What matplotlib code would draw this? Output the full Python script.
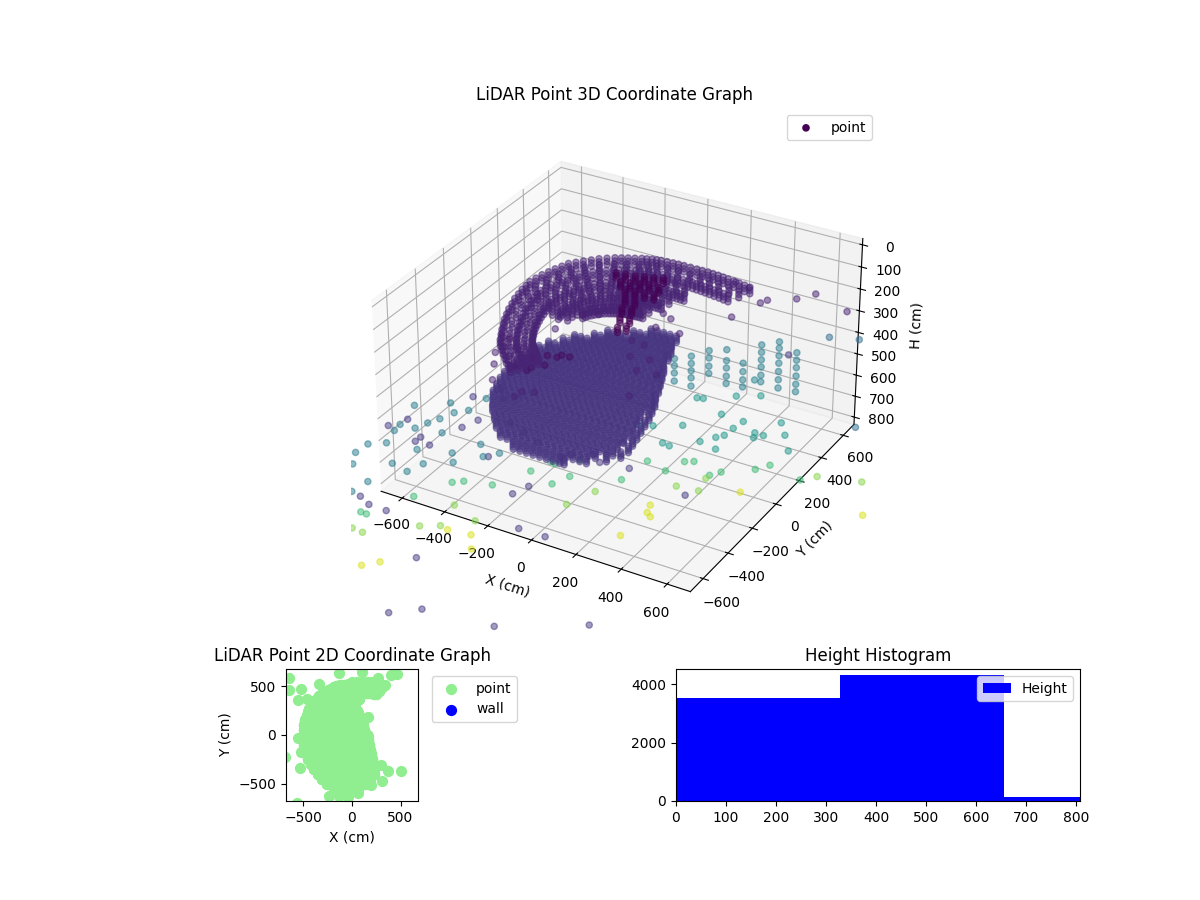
import numpy as np
import matplotlib
matplotlib.use("Agg")
import matplotlib.pyplot as plt

# upper wall rows: (x list, y list) for each scan height
ring_a_x = [-191,-240,-290,-332,-370,-405,-435,-460,-475,-482,-470,-450,-427,-385,-340,-288,-240,-190,-150,-112,-60,-10,50,101,150,200,255,309,
            -215,-265,-311,-351,-387,-420,-447,-467,-478,-476,-460,-438,-406,-362,-314,-264,-215,-170,-131,-86,-35,20,75,125,175,227,282]
ring_a_y = [-524,-475,-420,-373,-300,-225,-145,-60,20,91,165,235,302,350,400,440,465,490,505,514,520,522,522,522,518,510,502,492,
            -500,-447,-396,-336,-262,-185,-102,-20,55,128,200,268,326,375,420,452,477,497,509,517,521,522,522,520,514,506,497]
ring_ab_x = [-184,-229,-276,-314,-350,-382,-410,-433,-447,-453,-442,-424,-402,-363,-322,-274,-229,-183,-146,-111,-63,-17,38,86,131,177,228,278]
ring_ab_y = [-483,-438,-387,-343,-276,-206,-132,-54,20,85,154,219,281,325,371,408,431,455,468,477,482,484,484,484,480,473,466,456]
ring_b_x = [-177,-219,-262,-297,-330,-359,-385,-406,-419,-425,-415,-398,-378,-342,-304,-260,-219,-177,-143,-110,-66,-24,27,71,112,155,202,248,
            -198,-240,-279,-313,-344,-372,-395,-412,-422,-420,-406,-388,-360,-323,-282,-239,-198,-160,-126,-88,-45,1,49,91,133,178,225]
ring_b_y = [-442,-401,-354,-314,-252,-188,-120,-48,20,80,143,203,260,300,343,377,398,420,432,440,445,447,447,447,443,437,430,421,
            -421,-377,-334,-283,-220,-154,-84,-14,50,111,173,231,280,321,360,387,409,426,436,442,446,447,447,445,440,433,425]
ring_bc_x = [-170,-208,-247,-279,-309,-336,-359,-379,-390,-396,-387,-371,-353,-321,-286,-246,-208,-170,-139,-109,-69,-30,16,56]
ring_bc_y = [-401,-363,-321,-284,-228,-170,-108,-42,20,75,132,186,238,275,314,345,365,384,396,403,407,409,409,409]
ring_c_x = [-164,-198,-233,-262,-289,-314,-334,-352,-362,-367,-359,-345,-329,-300,-268,-232,-198,-163,-135,-108,-72,-37,5,41,75,
            -181,-215,-247,-275,-301,-324,-343,-357,-364,-363,-352,-337,-314,-284,-250,-215,-180,-149,-121,-90,-54,-16,23,58]
ring_c_y = [-361,-326,-288,-255,-204,-152,-96,-36,20,70,122,170,217,251,286,314,332,349,360,366,370,371,371,371,369,
            -343,-307,-271,-229,-178,-124,-66,-8,45,96,146,193,234,268,300,323,340,354,363,368,370,371,371,370]
ring_cd_x = [-334,-338,-331,-318,-304,-278,-250,-217,-187,-156,-131,-107,-75,-43,-6,26]
ring_cd_y = [20,65,111,154,196,226,257,282,298,314,323,329,332,333,333,333]
ring_d_x = [-306,-310,-304,-292,-280,-257,-232,-203,-177,-150,-127,-107,-78,-50,-17,11,
            -308,-307,-298,-286,-268,-244,-217,-190,-163,-138,-117,-92,-64,-33,-3]
ring_d_y = [20,59,100,138,175,202,229,251,265,279,287,292,295,296,296,296,
            40,80,119,156,188,215,240,258,272,283,289,293,295,296,296]
ring_de_x = [-278,-277,-270,-258,-242,-228,-205,-177,-152,-130,-113,-100,-75,-55,-27]
ring_de_y = [45,80,105,124,156,180,205,222,235,248,255,258,262,262,263]
ring_e_x = [-247,-237,-220,-201,-179,-159,-138,-121,-105,-83,-62,-37,
            -242,-228,-210,-190,-169,-148,-129,-113,-94,-72,-50]
ring_e_y = [110,138,159,180,196,207,217,224,227,230,231,231,
            124,148,170,188,201,212,220,225,228,230,231]
ring_heights = [200, 210, 220, 230, 240, 251, 262, 273, 285]
ring_layers = [0, 15, 30]

# dark T-shaped structure
tee_x = [-129,-90,-50,-15,21,57,-76,-37,-1,35,78,-27,13,52,91,10,50,37,73,68,104,98,123]
tee_y = [176,183,190,203,216,230,120,127,141,154,154,71,78,85,92,6,13,-66,-52,-135,-122,-205,-180]
tee_heights = [105, 117, 129]

# dark chunk below the left of the wall
chunk_x = [-408,-365,-309,-252,-378,-318,-262,-191,-268,-223,-189,-183,-152,-143,-135,-101]
chunk_y = [-231,-293,-346,-400,-230,-282,-335,-407,-233,-311,-379,-268,-338,-261,-238,-235]

# scattered points around the wall
stray_x = [-229,-14,196,267,365,379,320,70,118,100,-148,-203,-343,-299,-240,-238,206,476,524,698]
stray_y = [251,455,585,567,478,512,317,207,183,93,71,37,-393,-472,-577,-116,96,581,656,587]

# lower disc, row by row
disc_y = [500,450,400,350,300,250,200,150,100,50,0,-50,-100,-150,-200,-250,-300,-350,-400,-450,-500,-550]
disc_x = [
 [-150,-120,-90,-60,-30],
 [-205,-175,-145,-115,-85,-55,-25],
 [-300,-270,-240,-210,-180,-150,-120,-90,-60,-30,0],
 [-335,-305,-275,-245,-215,-185,-155,-125,-95,-65,-35,-5,15],
 [-400,-370,-340,-310,-280,-250,-220,-190,-160,-130,-100,-70,-40,-10,20],
 [-425,-395,-365,-335,-305,-275,-245,-215,-185,-155,-125,-95,-65,-35,-5,25,50],
 [-465,-435,-405,-375,-345,-315,-285,-255,-225,-195,-165,-135,-105,-75,-45,-15,15,45,70],
 [-480,-450,-420,-390,-360,-330,-300,-270,-240,-210,-180,-150,-120,-90,-60,-30,0,30,60,90],
 [-490,-460,-430,-400,-370,-340,-310,-280,-250,-220,-190,-160,-130,-100,-70,-40,-10,20,50,80,110],
 [-495,-465,-435,-405,-375,-345,-315,-285,-255,-225,-195,-165,-135,-105,-75,-45,-15,15,45,75,105,125],
 [-495,-465,-435,-405,-375,-345,-315,-285,-255,-225,-195,-165,-135,-105,-75,-45,-15,15,45,75,105,135,150],
 [-495,-465,-435,-405,-375,-345,-315,-285,-255,-225,-195,-165,-135,-105,-75,-45,-15,15,45,75,105,135,165],
 [-490,-460,-430,-400,-370,-340,-310,-280,-250,-220,-190,-160,-130,-100,-70,-40,-10,20,50,80,110,140,180],
 [-480,-450,-420,-390,-360,-330,-300,-270,-240,-210,-180,-150,-120,-90,-60,-30,0,30,60,90,120,150,190],
 [-465,-435,-405,-375,-345,-315,-285,-255,-225,-195,-165,-135,-105,-75,-45,-15,15,45,75,105,135,165,200],
 [-450,-420,-390,-360,-330,-300,-270,-240,-210,-180,-150,-120,-90,-60,-30,0,30,60,90,120,150,180,210],
 [-420,-390,-360,-330,-300,-270,-240,-210,-180,-150,-120,-90,-60,-30,0,30,60,90,120,150,180,220],
 [-390,-360,-330,-300,-270,-240,-210,-180,-150,-120,-90,-60,-30,0,30,60,90,120,150,180,230],
 [-350,-320,-290,-260,-230,-200,-170,-140,-110,-80,-50,-20,10,40,70,100,130,160,190,225],
 [-310,-280,-250,-220,-190,-160,-130,-100,-70,-40,-10,20,50,80,110,140,190],
 [-260,-230,-200,-170,-140,-110,-80,-50,-20,10,40,70,100,130],
 [-170,-140,-110,-80,-50,-20,10,40,60],
]
disc_heights = [525, 535, 545, 555]

rim_x = [-19,7,81,133,136,-154,-239,-325,-447,-497,110]
rim_y = [-444,-411,-366,-404,-234,-396,-360,-325,-179,-121,-56]
inner_x = [-236,-232,-186,148,160,78,-4,74,0,-61]
inner_y = [-429,-382,-362,-200,-7,84,68,-16,177,184]

# back wall columns
col_x = [-60,20,103,185,262,345,425,505]
col_z = [
 [661,695,730,769],
 [626,661,696,730,770],
 [576,611,650,685],
 [548,600,635,674,709],
 [590,630,669,703],
 [480,515,550,584,623,654],
 [443,473,508,543,582,621,660],
 [471,506,541,580,619,654],
]

# scattered floor points
teal_x = [-633,-520,-427,-467,-490,-514,-535,-601,-595,-570,-627,-633,-595,-425,-441,-310,-249,-193,-152,-270,-363,-386,-467,-474,-487,-416]
teal_y = [-541,-454,-467,-510,-577,-627,-684,-690,-739,-830,-873,-948,-1022,-661,-812,-766,-658,-729,-677,-821,-887,-963,-943,-1097,-1184,-355]
blue_hi_x = [-469,-597,-636,-380,-355,-480,-479,-417,-176]
blue_hi_y = [-369,-643,-720,-588,-511,-765,-729,-761,-719]
blue_lo_x = [135,-167,-141,-610,-672,-527,-16,101,-245,-40,-133,543,248,422]
blue_lo_y = [-177,-567,-489,-911,-879,-914,-765,-763,-1128,-1400,-1480,-1180,-1360,-239]
aqua_x = [104,129,238,325,254,358,348,497,554,480,440,453,320,342,280,362,159,56,1,155,189,621]
aqua_y = [439,447,532,585,373,367,299,435,356,310,312,276,202,233,142,122,217,154,129,57,51,255]
green_x = [-66,-162,-138,-193,-417,-382,-270,-71,-39,150,-491,-607,-580,300,332,268,170,463,435,571,607,760]
green_y = [-222,-290,-293,-389,-615,-585,-552,-428,-346,-265,-776,-971,-972,-23,-3,-121,-93,-19,-63,66,123,85]
lime_x = [104,-320,-190,-355,-287,-520,-571,55,433,360,452,807,977]
lime_y = [-391,-749,-803,-940,-898,-1086,-1081,-527,-90,-198,-185,141,193]
yellow_x = [-248,-151,-97,-395,-348,346,598,339,355,380,1085]
yellow_y = [-908,-893,-975,-1274,-1220,-612,-112,-369,-421,-441,-22]
far_x = [692,803,616]
far_y = [445,487,239]
far_z = [300,300,300]
far_c = [0.35,0.35,0.17]
side_x = [774,436]
side_y = [554,305]
side_z = [750,500]
side_c = [0.35,0.45]

# extra points in the 2D view
plan_x = [-138,100,-649,-649,-528,-345,-459,-555,266,404,466,335,248,162,-559,-528,-690,-531,300,369,504,307,197,-241,-131,-38,-562,59,0,50,100,150,200,250]
plan_y = [638,649,586,466,473,524,369,362,586,617,628,517,535,183,-35,-172,-231,-345,-304,-373,-373,-476,-518,-631,-624,-638,-697,-597,550,550,550,550,550,550]

# histogram
hist_edges = [0, 328, 656, 808]
hist_counts = [3520, 4308, 137]

xs, ys, zs, cs = [], [], [], []
def add(x, y, z, c):
    x = np.atleast_1d(x).astype(float)
    y = np.atleast_1d(y).astype(float)
    xs.append(x); ys.append(y)
    zs.append(np.broadcast_to(z, x.shape).astype(float))
    cs.append(np.broadcast_to(c, x.shape).astype(float))

for h in tee_heights:
    add(tee_x, tee_y, h, 0.0)
ring_rows = [(ring_a_x, ring_a_y), (ring_ab_x, ring_ab_y), (ring_b_x, ring_b_y), (ring_bc_x, ring_bc_y),
             (ring_c_x, ring_c_y), (ring_cd_x, ring_cd_y), (ring_d_x, ring_d_y), (ring_de_x, ring_de_y),
             (ring_e_x, ring_e_y)]
for (rx, ry), h in zip(ring_rows, ring_heights):
    for layer in ring_layers:
        add(rx, ry, h + layer, 0.1)
add(chunk_x, chunk_y, 280, 0.03)
for row_y, row_x in zip(disc_y, disc_x):
    for h in disc_heights:
        add(row_x, [row_y] * len(row_x), h, 0.15)
add(rim_x, rim_y, 600, 0.15)
add(inner_x, inner_y, 400, 0.1)
plan_core_x = np.concatenate(xs)
plan_core_y = np.concatenate(ys)
add(stray_x, stray_y, 250, 0.09)
for cx, cz in zip(col_x, col_z):
    add([cx] * len(cz), [540] * len(cz), cz, 0.42)
add(teal_x, teal_y, 500, 0.42)
add(blue_hi_x, blue_hi_y, 500, 0.17)
add(blue_lo_x, blue_lo_y, 750, 0.17)
add(aqua_x, aqua_y, 750, 0.53)
add(green_x, green_y, 750, 0.68)
add(lime_x, lime_y, 750, 0.82)
add(yellow_x, yellow_y, 750, 0.94)
add(far_x, far_y, far_z, far_c)
add(side_x, side_y, side_z, side_c)

fig = plt.figure(figsize=(12, 9), dpi=100)

ax3 = fig.add_axes([351 / 1200, 264 / 900, 528 / 1200, 528 / 900], projection="3d")
ax3.scatter(np.concatenate(xs), np.concatenate(ys), np.concatenate(zs), c=np.concatenate(cs),
            cmap="viridis", vmin=0, vmax=1, label="point", alpha=0.5, depthshade=False)
ax3.set_xlim(-700, 700)
ax3.set_ylim(-700, 700)
ax3.set_zlim(835, -28)
ax3.set_aspect("equal")
ax3.set_zticks(range(0, 801, 100))
ax3.set_xlabel("X (cm)")
ax3.set_ylabel("Y (cm)")
ax3.set_zlabel("H (cm)")
ax3.set_title("LiDAR Point 3D Coordinate Graph")
leg3 = ax3.legend(loc="upper right")
leg3.legend_handles[0].set_alpha(1)

ax2 = fig.add_axes([286 / 1200, 99 / 900, 132 / 1200, 132 / 900])
ax2.scatter(np.concatenate([plan_core_x, plan_x]), np.concatenate([plan_core_y, plan_y]),
            s=50, c="lightgreen", label="point")
ax2.scatter([], [], s=50, c="blue", label="wall")
ax2.set_xlim(-680, 680)
ax2.set_ylim(-680, 680)
ax2.set_xticks([-500, 0, 500])
ax2.set_yticks([-500, 0, 500])
ax2.set_xlabel("X (cm)")
ax2.set_ylabel("Y (cm)")
ax2.set_title("LiDAR Point 2D Coordinate Graph")
ax2.legend(loc="upper left", bbox_to_anchor=(1.05, 1))

ax1 = fig.add_axes([676 / 1200, 99 / 900, 404 / 1200, 132 / 900])
ax1.hist(np.array(hist_edges[:-1]) + 1, bins=hist_edges, weights=hist_counts, color="blue", label="Height")
ax1.set_xlim(hist_edges[0], hist_edges[-1])
ax1.set_ylim(0, 4523)
ax1.set_title("Height Histogram")
ax1.legend(loc="upper right")

fig.savefig("out.png", dpi=100)
